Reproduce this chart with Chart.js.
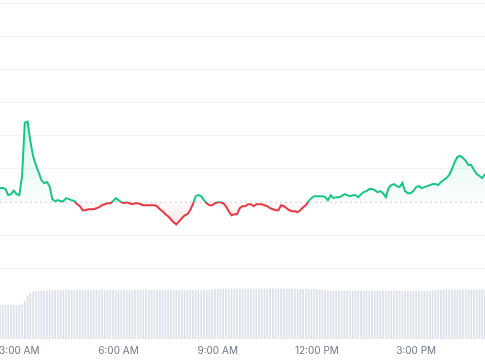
<!DOCTYPE html>
<html>
<head>
<meta charset="utf-8">
<script src="https://cdn.jsdelivr.net/npm/chart.js@4/dist/chart.umd.min.js"></script>
<style>
  html, body { margin: 0; padding: 0; background: #ffffff; }
  #wrap { width: 485px; height: 360px; position: relative; }
</style>
</head>
<body>
<div id="wrap"><canvas id="c"></canvas></div>
<script>
// ---- data ----
const openPrice = 62.0;              // reference (opening) price, dashed line
const startMinute = 145;             // 2:25 AM, first sample
const stepMinutes = 5;               // sampling interval
const tickValues = [180, 360, 540, 720, 900];
const tickLabels = ['3:00 AM', '6:00 AM', '9:00 AM', '12:00 PM', '3:00 PM'];
const gridValues = [81.8, 78.5, 75.2, 71.9, 68.6, 65.3, 58.7, 55.4];

const price = [
  63.4, 63.4, 63.3, 62.7, 62.8, 63.15, 62.8, 62.7, 64.6, 69.9,
  70.0, 68.1, 66.6, 65.7, 65.0, 64.2, 63.9, 64.0, 63.6, 62.3,
  62.1, 62.2, 62.1, 62.1, 62.4, 62.3, 62.2, 62.1, 61.8, 61.6,
  61.2, 61.2, 61.3, 61.3, 61.3, 61.4, 61.5, 61.7, 61.8, 61.9,
  61.9, 62.1, 62.4, 62.2, 62.0, 61.9, 62.0, 61.9, 61.8, 61.9,
  61.9, 61.8, 61.7, 61.7, 61.7, 61.7, 61.7, 61.6, 61.3, 61.1,
  60.8, 60.6, 60.3, 60.0, 59.8, 60.1, 60.4, 60.7, 60.8, 61.2,
  61.8, 62.6, 62.7, 62.6, 62.2, 61.9, 61.7, 61.7, 61.9, 62.0,
  62.0, 61.9, 61.6, 61.1, 60.7, 60.8, 60.8, 61.4, 61.6, 61.6,
  61.8, 61.8, 61.6, 61.8, 61.8, 61.8, 61.7, 61.6, 61.4, 61.3,
  61.2, 61.2, 61.7, 61.6, 61.4, 61.2, 61.1, 61.1, 61.0, 61.2,
  61.5, 61.7, 62.1, 62.4, 62.6, 62.6, 62.6, 62.6, 62.5, 62.2,
  62.7, 62.4, 62.5, 62.5, 62.6, 62.8, 62.7, 62.6, 62.7, 62.7,
  62.5, 62.8, 63.0, 63.1, 63.3, 63.3, 63.2, 63.0, 63.1, 62.9,
  62.5, 63.4, 63.7, 63.8, 63.6, 63.5, 63.9, 63.1, 62.9, 62.9,
  63.1, 63.5, 63.6, 63.4, 63.5, 63.6, 63.7, 63.8, 63.8, 63.7,
  64.0, 64.2, 64.4, 64.7, 65.3, 66.0, 66.5, 66.6, 66.4, 66.1,
  65.7, 65.7, 65.2, 64.8, 64.6, 64.4, 64.8
];

const volume = [
  16.9, 16.9, 16.9, 16.9, 16.9, 16.9, 16.9, 16.9, 16.9, 19.0,
  21.5, 23.0, 23.6, 23.9, 24.0, 24.1, 24.1, 24.2, 24.3, 24.3,
  24.3, 24.3, 24.3, 24.3, 24.3, 24.3, 24.3, 24.3, 24.3, 24.3,
  24.3, 24.3, 24.3, 24.3, 24.3, 24.3, 24.3, 24.3, 24.3, 24.3,
  24.3, 24.3, 24.3, 24.3, 24.3, 24.3, 24.3, 24.3, 24.3, 24.3,
  24.3, 24.3, 24.3, 24.3, 24.3, 24.3, 24.3, 24.3, 24.3, 24.3,
  24.3, 24.3, 24.3, 24.3, 24.3, 24.3, 24.3, 24.3, 24.3, 24.3,
  24.3, 24.3, 24.3, 24.3, 24.4, 24.4, 24.5, 24.6, 24.8, 24.9,
  25.0, 25.1, 25.1, 25.1, 25.1, 25.1, 25.1, 25.1, 25.1, 25.1,
  25.1, 25.1, 25.1, 25.1, 25.1, 25.1, 25.1, 25.1, 25.1, 25.1,
  25.1, 25.1, 25.0, 25.0, 25.0, 24.9, 24.9, 24.9, 24.8, 24.8,
  24.8, 24.8, 24.8, 24.8, 24.8, 24.7, 24.6, 24.4, 24.2, 24.1,
  24.0, 24.0, 24.0, 24.0, 24.0, 24.0, 24.0, 24.0, 24.0, 24.0,
  24.0, 24.0, 24.0, 24.0, 24.0, 24.0, 24.0, 24.0, 24.0, 24.0,
  24.0, 24.0, 24.0, 24.0, 24.0, 24.0, 23.9, 23.9, 23.9, 23.9,
  23.9, 23.9, 23.9, 23.9, 23.9, 23.9, 24.0, 24.1, 24.2, 24.3,
  24.5, 24.6, 24.6, 24.6, 24.6, 24.6, 24.6, 24.6, 24.6, 24.6,
  24.6, 24.6, 24.6, 24.6, 24.6, 24.6, 24.6
];

// ---- build ----
const times = price.map((_, i) => startMinute + i * stepMinutes);
const endMinute = times[times.length - 1];
const GREEN = '#16c784';
const RED = '#ea3943';

function lineColor(ctx) {
  const chart = ctx.chart;
  const area = chart.chartArea;
  if (!area) return GREEN;
  const yb = chart.scales.y.getPixelForValue(openPrice);
  const f = Math.min(Math.max((yb - area.top) / (area.bottom - area.top), 0), 1);
  const g = chart.ctx.createLinearGradient(0, area.top, 0, area.bottom);
  g.addColorStop(0, GREEN);
  g.addColorStop(f, GREEN);
  g.addColorStop(f, RED);
  g.addColorStop(1, RED);
  return g;
}
function fillColor(ctx) {
  const chart = ctx.chart;
  const area = chart.chartArea;
  if (!area) return 'rgba(22,199,132,0.1)';
  const ys = chart.scales.y;
  const yb = ys.getPixelForValue(openPrice);
  const yTop = ys.getPixelForValue(Math.max(...price));
  const yBot = ys.getPixelForValue(Math.min(...price));
  const g = chart.ctx.createLinearGradient(0, yTop, 0, yBot);
  const f = (yb - yTop) / (yBot - yTop);
  g.addColorStop(0, 'rgba(22,199,132,0.16)');
  g.addColorStop(f, 'rgba(22,199,132,0.02)');
  g.addColorStop(f, 'rgba(234,57,67,0.02)');
  g.addColorStop(1, 'rgba(234,57,67,0.12)');
  return g;
}

new Chart(document.getElementById('c'), {
  type: 'line',
  data: {
    datasets: [
      {
        label: 'Price',
        data: price.map((v, i) => ({ x: times[i], y: v })),
        yAxisID: 'y',
        borderColor: lineColor,
        backgroundColor: fillColor,
        borderWidth: 2,
        pointRadius: 0,
        tension: 0,
        fill: { target: { value: openPrice } },
        order: 0
      },
      {
        label: 'Open',
        data: [{ x: startMinute, y: openPrice }, { x: endMinute, y: openPrice }],
        yAxisID: 'y',
        borderColor: '#c9cdd5',
        borderWidth: 1,
        borderDash: [2, 3],
        pointRadius: 0,
        fill: false,
        order: 1
      },
      {
        type: 'bar',
        label: 'Volume',
        data: volume.map((v, i) => ({ x: times[i], y: v })),
        yAxisID: 'yv',
        backgroundColor: '#dde1e9',
        barPercentage: 0.65,
        categoryPercentage: 1,
        order: 2
      }
    ]
  },
  options: {
    responsive: true,
    maintainAspectRatio: false,
    animation: false,
    layout: { padding: { left: 0, right: 0, top: 0, bottom: -3 } },
    plugins: { legend: { display: false }, tooltip: { enabled: false } },
    scales: {
      x: {
        type: 'linear',
        min: startMinute,
        max: endMinute,
        offset: false,
        grid: { display: false, drawTicks: false },
        border: { display: false },
        afterBuildTicks: (s) => { s.ticks = tickValues.map(v => ({ value: v })); },
        afterFit: (s) => { s.paddingLeft = 0; s.paddingRight = 0; },
        ticks: {
          autoSkip: false,
          maxRotation: 0,
          padding: 6,
          color: '#6f7785',
          font: { size: 10, family: 'Inter' },
          callback: (v) => tickLabels[tickValues.indexOf(v)] || ''
        }
      },
      y: {
        type: 'linear',
        min: 48.4,
        max: 82.1,
        grid: { color: '#f2f3f6', drawTicks: false },
        border: { display: false },
        ticks: { display: false },
        afterBuildTicks: (s) => { s.ticks = gridValues.map(v => ({ value: v })); },
        afterFit: (s) => { s.paddingTop = 0; s.paddingBottom = 0; s.width = 0; }
      },
      yv: {
        type: 'linear',
        display: false,
        min: 0,
        max: 168.5
      }
    }
  }
});
</script>
</body>
</html>
